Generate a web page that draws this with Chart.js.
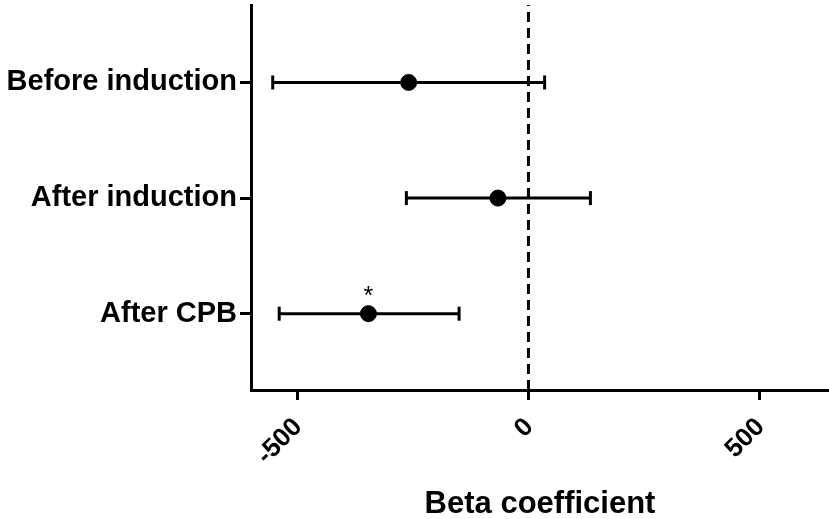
<!DOCTYPE html>
<html>
<head>
<meta charset="utf-8">
<script src="https://cdn.jsdelivr.net/npm/chart.js@4/dist/chart.umd.min.js"></script>
<style>
  html, body { margin: 0; padding: 0; background: #fff; }
  #wrap { width: 829px; height: 519px; }
</style>
</head>
<body>
<div id="wrap"><canvas id="grafico"></canvas></div>
<script>
// valores (forest plot)
const categorias = ['Before induction', 'After induction', 'After CPB'];
const posicoesY = [3, 2, 1];
const betas = [-259, -66, -346];
const limInferior = [-553, -264, -539];
const limSuperior = [35, 134, -150];
const marcas = ['', '', '*'];
const ticksX = [-500, 0, 500];

const FONTE = '"Liberation Sans", Arial, sans-serif';
const Y_MIN = 0.34, Y_MAX = 3.67;

let datasets = [];

// linha de referência tracejada em zero
datasets.push({
    type: 'line',
    data: [{ x: 0, y: Y_MIN }, { x: 0, y: Y_MAX }],
    borderColor: '#000',
    borderWidth: 3,
    borderDash: [10, 6],
    pointRadius: 0,
    order: 3
});

// barras de erro (intervalos) com "caps" verticais
categorias.forEach((c, i) => {
    datasets.push({
        type: 'line',
        data: [{ x: limInferior[i], y: posicoesY[i] }, { x: limSuperior[i], y: posicoesY[i] }],
        borderColor: '#000',
        borderWidth: 3,
        pointStyle: 'line',
        rotation: 90,
        pointRadius: 7,
        pointBorderWidth: 3,
        pointBorderColor: '#000',
        order: 2
    });
});

// estimativas pontuais
datasets.push({
    type: 'scatter',
    data: betas.map((b, i) => ({ x: b, y: posicoesY[i] })),
    backgroundColor: '#000',
    borderColor: '#000',
    pointRadius: 8,
    order: 1
});

const pluginAsterisco = {
    id: 'asterisco',
    afterDatasetsDraw(chart) {
        const ctx = chart.ctx;
        const sx = chart.scales.x, sy = chart.scales.y;
        ctx.save();
        ctx.fillStyle = '#000';
        ctx.font = '25px ' + FONTE;
        ctx.textAlign = 'center';
        ctx.textBaseline = 'alphabetic';
        marcas.forEach((m, i) => {
            if (!m) return;
            ctx.fillText(m, sx.getPixelForValue(betas[i]), sy.getPixelForValue(posicoesY[i]) - 10);
        });
        ctx.restore();
    }
};

new Chart(document.getElementById('grafico'), {
    data: { datasets: datasets },
    plugins: [pluginAsterisco],
    options: {
        responsive: true,
        maintainAspectRatio: false,
        animation: false,
        layout: { autoPadding: false, padding: { left: 4, top: 5, right: 0, bottom: 0 } },
        plugins: { legend: { display: false }, tooltip: { enabled: false } },
        scales: {
            x: {
                type: 'linear',
                min: -600,
                max: 650,
                afterBuildTicks: (s) => { s.ticks = ticksX.map(v => ({ value: v })); },
                afterFit: (s) => { s.height = 129; s.paddingLeft = 0; s.paddingRight = 0; },
                grid: { drawOnChartArea: false, drawTicks: true, tickLength: 10, tickWidth: 3, tickColor: '#000' },
                border: { display: true, color: '#000', width: 3 },
                ticks: {
                    color: '#000',
                    font: { family: FONTE, size: 26, weight: 'bold' },
                    minRotation: 45,
                    maxRotation: 45,
                    padding: 12,
                    labelOffset: 1
                },
                title: {
                    display: true,
                    text: 'Beta coefficient',
                    color: '#000',
                    font: { family: FONTE, size: 31, weight: 'bold' },
                    padding: { top: 8, bottom: -4 }
                }
            },
            y: {
                type: 'linear',
                min: Y_MIN,
                max: Y_MAX,
                afterBuildTicks: (s) => { s.ticks = posicoesY.map(v => ({ value: v })); },
                afterFit: (s) => { s.width = 247; s.paddingTop = 0; s.paddingBottom = 0; },
                grid: { drawOnChartArea: false, drawTicks: true, tickLength: 11, tickWidth: 3, tickColor: '#000' },
                border: { display: true, color: '#000', width: 3 },
                ticks: {
                    color: '#000',
                    font: { family: FONTE, size: 29, weight: 'bold' },
                    padding: 3,
                    callback: (v) => categorias[posicoesY.indexOf(v)]
                }
            }
        }
    }
});
</script>
</body>
</html>
